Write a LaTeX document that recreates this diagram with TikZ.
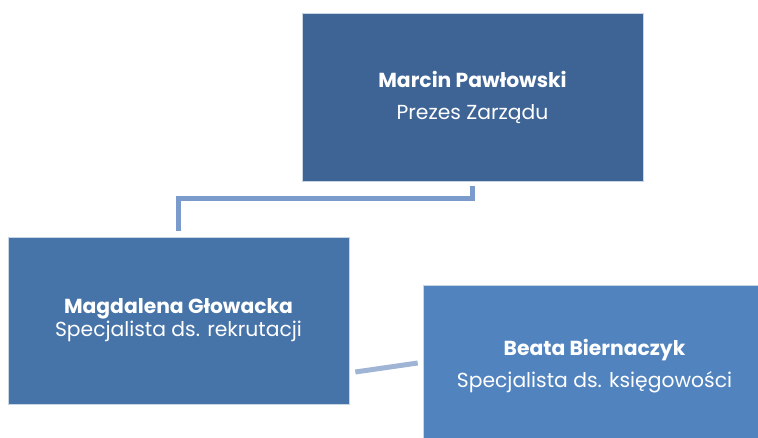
\documentclass[tikz,border=0pt]{standalone}
\usepackage{fontspec}
\setmainfont{Poppins}
\definecolor{boxdark}{RGB}{62,100,150}
\definecolor{boxmid}{RGB}{70,115,168}
\definecolor{boxlight}{RGB}{81,131,191}
\definecolor{linkblue}{RGB}{122,155,204}
\definecolor{linkpale}{RGB}{160,180,214}
\tikzstyle{person}=[draw=white!70!boxmid, line width=0.6pt, text=white, align=center, minimum width=341pt, minimum height=168pt, inner sep=0pt, font=\fontsize{20.3}{32}\selectfont]
\tikzstyle{elbow}=[linkblue, line width=5pt]
\tikzstyle{slant}=[linkpale, line width=5pt]

\begin{document}
\begin{tikzpicture}[x=1pt, y=-1pt]
\useasboundingbox (0,0) rectangle (758,437);

\node[person, fill=boxdark] (prezes) at (472.5, 97) {\textbf{Marcin Pawłowski}\\ Prezes Zarządu};
\node[person, fill=boxmid, minimum height=167pt, font=\fontsize{20.3}{23}\selectfont] (rekrut) at (178.5, 320.5) {\textbf{Magdalena Głowacka}\\ Specjalista ds. rekrutacji};
\node[person, fill=boxlight, minimum width=343pt, minimum height=162pt] (ksieg) at (594.5, 366) {\textbf{Beata Biernaczyk}\\ Specjalista ds. księgowości};

\draw[elbow] ([yshift=-5pt]prezes.south) -- ++(0,12) -| ([yshift=6pt]rekrut.north);
\draw[slant] ([xshift=6pt, yshift=-51.5pt]rekrut.east) -- ([xshift=-5pt, yshift=3pt]ksieg.west);

\end{tikzpicture}
\end{document}
